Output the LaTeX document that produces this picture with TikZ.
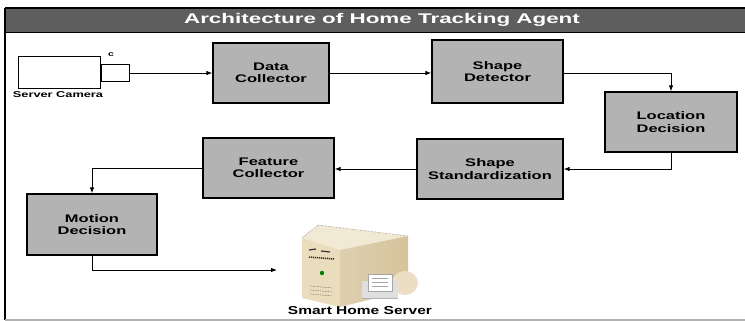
\documentclass[tikz,border=0pt]{standalone}
\usepackage{fontspec}
\newfontfamily\widesans[FakeStretch=1.5]{Liberation Sans}
\newfontfamily\titlesans[FakeStretch=1.6]{Liberation Sans}
\newfontfamily\labelsans[FakeStretch=1.35]{Liberation Sans}
\usetikzlibrary{arrows.meta}
\definecolor{boxgray}{HTML}{B3B3B3}
\definecolor{bargray}{HTML}{5E5E5E}
\definecolor{srvtop}{HTML}{F1E9D3}
\definecolor{srvfront}{HTML}{E9DDBE}
\definecolor{srvside}{HTML}{D5C39B}
\begin{document}
\begin{tikzpicture}[x=1pt,y=-1pt,
	blk/.style={draw,line width=1.3pt,fill=boxgray,align=center,inner sep=0pt,
		font=\widesans\bfseries\fontsize{11}{12.5}\selectfont},
	flow/.style={-{Latex[length=6pt,width=4.5pt]},line width=0.9pt}]
	\useasboundingbox (0,0) rectangle (745,321);
	% frame and title bar
	\fill[bargray] (5,8) rectangle (745,32);
	\draw[line width=1.3pt] (5,8) -- (745,8);
	\draw[line width=0.8pt] (5,32) -- (745,32);
	\draw[line width=1.5pt] (5,8) -- (5,320);
	\draw[gray!60,line width=1.5pt] (5,320) -- (745,320);
	\node[text=white,font=\titlesans\bfseries\fontsize{14}{14}\selectfont] (title) at (382,20) {Architecture of Home Tracking Agent};

	% camera
	\node[draw,fill=white,line width=1pt,minimum width=82pt,minimum height=32pt,inner sep=0pt] (cam) at (59,73) {};
	\node[draw,fill=white,line width=1pt,minimum width=28pt,minimum height=17pt,inner sep=0pt,anchor=west] (lens) at (cam.east) {};
	\node[font=\widesans\bfseries\fontsize{7}{7}\selectfont] (camtag) at (111,55) {c};
	\node[font=\widesans\bfseries\fontsize{8.5}{9}\selectfont] (camlbl) at (58,95) {Server Camera};

	% processing blocks
	\node[blk,minimum width=116pt,minimum height=60pt] (dc) at (271,73) {Data\\Collector};
	\node[blk,minimum width=131pt,minimum height=63pt] (sd) at (497.5,71.5) {Shape\\Detector};
	\node[blk,minimum width=132pt,minimum height=60pt] (ld) at (671,122) {Location\\Decision};
	\node[blk,minimum width=146pt,minimum height=60pt] (ss) at (490,169) {Shape\\Standardization};
	\node[blk,minimum width=131pt,minimum height=60pt] (fc) at (268.5,168) {Feature\\Collector};
	\node[blk,minimum width=130pt,minimum height=61pt] (md) at (92,224.5) {Motion\\Decision};

	% server
	\fill[srvtop] (302,238) -- (318,225) -- (408,236) -- (340,250) -- cycle;
	\draw[densely dotted,black!70] (302,238) -- (318,225) -- (408,236);
	\fill[srvfront] (302,238) -- (340,250) -- (340,307) -- (302,298) -- cycle;
	\shade[left color=srvside!80!white,right color=srvside] (340,250) -- (408,236) -- (408,290) -- (340,307) -- cycle;
	\draw[line width=1.2pt,black!80] (309,250) -- (316,249) (321,251) -- (330,252);
	\draw[line width=1.5pt,black!80,dash pattern=on 1.2pt off 0.8pt] (309,257) -- (334,259);
	\fill[green!50!black] (322,273) circle (2.2pt);
	\draw[black!60,dash pattern=on 1.5pt off 1pt] (310,286) -- (333,288) (310,290) -- (333,292) (310,294) -- (333,296);
	\fill[srvtop!90!brown] (405,283) ellipse (13pt and 12pt);
	\fill[gray!25] (362,281) rectangle (398,298);
	\draw[gray!70,fill=white] (368,274) rectangle (392,291);
	\draw[gray!70] (372,278) -- (388,278) (372,282) -- (388,282) (372,286) -- (388,286);
	\draw[gray!60,line width=0.8pt] (362,298) -- (398,298);
	\node[font=\labelsans\bfseries\fontsize{11.5}{12}\selectfont] (srvlbl) at (360,311) {Smart Home Server};
	\coordinate (srvin) at (277,270);

	% data flow
	\draw[flow] (lens.east) -- (dc.west);
	\draw[flow] (dc.east) -- (sd.west |- dc.east);
	\draw[flow] (sd.east |- dc.east) -| (ld.north);
	\draw[flow] (ld.south) |- (ss.east);
	\draw[flow] (ss.west) -- (ss.west -| fc.east);
	\draw[flow] (fc.west) -| (md.north);
	\draw[flow] (md.south) |- (srvin);
\end{tikzpicture}
\end{document}
